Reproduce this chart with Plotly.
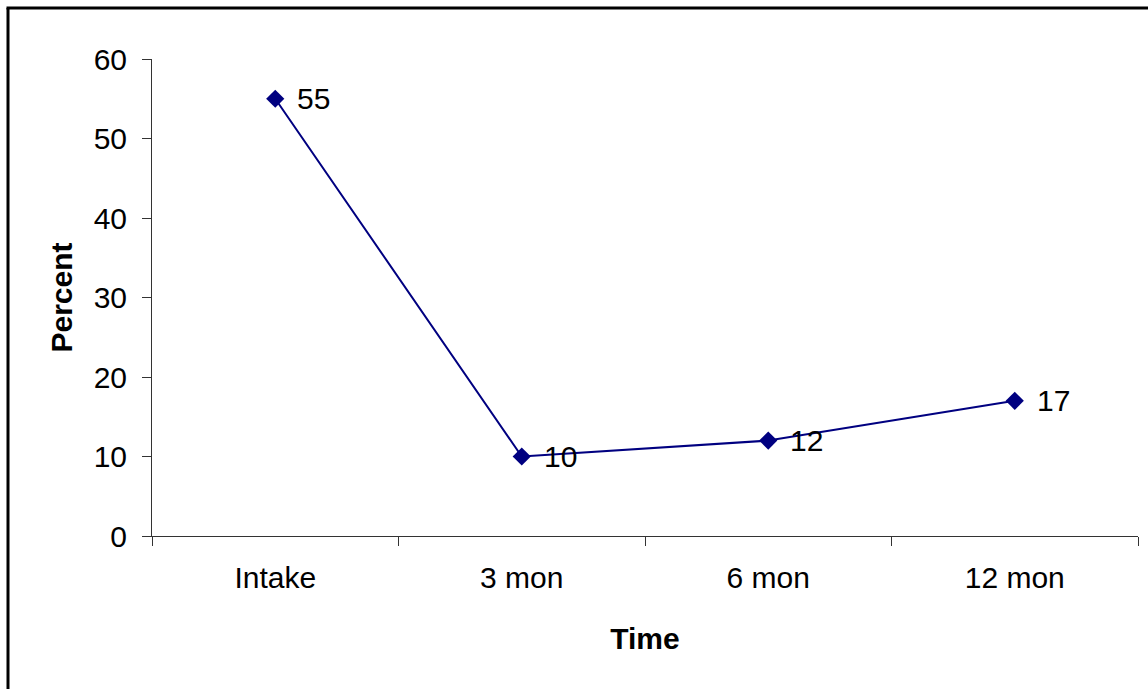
import plotly.graph_objects as go

categories = ["Intake", "3 mon", "6 mon", "12 mon"]
percent = [55, 10, 12, 17]
y_ticks = [0, 10, 20, 30, 40, 50, 60]

W, H = 1148, 689
L, R, T, B = 152, 10, 59, 153
pw, ph = W - L - R, H - T - B

def px_x(x):
    return (x - L) / pw

def px_y(y):
    return (H - B - y) / ph

FONT = "Liberation Sans, Arial, sans-serif"
NAVY = "#000080"
FS = 30

fig = go.Figure()
fig.add_trace(go.Scatter(
    x=categories, y=percent,
    mode="lines+markers",
    line=dict(color=NAVY, width=2),
    marker=dict(symbol="diamond", size=14, color=NAVY),
    cliponaxis=False,
    hoverinfo="skip",
))

annotations = [
    dict(x=c, y=v, xref="x", yref="y", text=str(v), showarrow=False,
         xanchor="left", yanchor="middle", xshift=20, yshift=0,
         font=dict(family=FONT, size=FS, color="black"))
    for c, v in zip(categories, percent)
]

fig.update_layout(
    width=W, height=H,
    margin=dict(l=L, r=R, t=T, b=B, pad=0),
    paper_bgcolor="white", plot_bgcolor="white",
    showlegend=False,
    font=dict(family=FONT, size=FS, color="black"),
    annotations=annotations,
    xaxis=dict(
        type="category", range=[-0.5, 3.5],
        tickson="boundaries", ticks="outside", ticklen=9, tickcolor="#333",
        showline=True, linecolor="#333", linewidth=1,
        showgrid=False, zeroline=False,
        tickfont=dict(family=FONT, size=FS),
        ticklabelstandoff=15,
        title=dict(text="<b>Time</b>", font=dict(family=FONT, size=FS), standoff=34),
    ),
    yaxis=dict(
        range=[0, 60], tickvals=y_ticks,
        ticks="outside", ticklen=9, tickcolor="#333",
        showline=True, linecolor="#333", linewidth=1,
        showgrid=False, zeroline=False,
        tickfont=dict(family=FONT, size=FS),
        ticklabelstandoff=9,
        title=dict(text="<b>Percent</b>", font=dict(family=FONT, size=FS), standoff=12),
    ),
    shapes=[
        dict(type="line", xref="paper", yref="paper",
             x0=px_x(8), x1=px_x(8), y0=px_y(8), y1=px_y(H + 2),
             line=dict(color="black", width=3)),
        dict(type="line", xref="paper", yref="paper",
             x0=px_x(6.5), x1=px_x(W + 2), y0=px_y(8), y1=px_y(8),
             line=dict(color="black", width=3)),
    ],
)

fig.write_html("out.html")
